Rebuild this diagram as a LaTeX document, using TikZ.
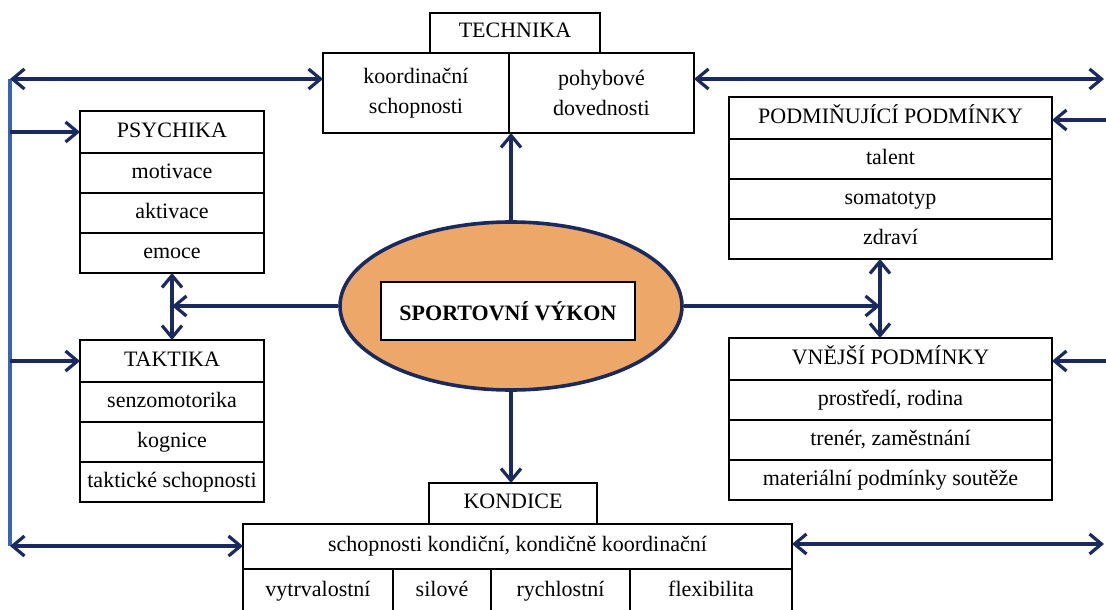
\documentclass[tikz,border=0pt]{standalone}
\usepackage{fontspec}
\setmainfont{Liberation Serif}
\usepackage{xcolor}
\usetikzlibrary{arrows.meta,positioning,shapes.geometric}
\definecolor{navy}{HTML}{1B2A5E}
\definecolor{railblue}{HTML}{3A63B2}
\definecolor{peach}{HTML}{EDA768}

\begin{document}
\begin{tikzpicture}[x=1pt,y=-1pt,>={Straight Barb[length=12pt,width=20pt]},
  box/.style={draw,line width=1.4pt,outer sep=0pt,inner sep=0pt,align=center,font=\fontsize{22}{30}\selectfont},
  cell/.style={box,minimum height=40pt,text height=15pt,text depth=5pt},
  lcol/.style={cell,minimum width=184pt},
  rcol/.style={cell,minimum width=323pt},
  link/.style={navy,line width=3.2pt},
  rail/.style={railblue,line width=3.2pt}]
  \useasboundingbox (0,0) rectangle (1106,610);

  \node[box,minimum width=170pt,minimum height=40pt,text height=15pt,text depth=5pt] (th) at (515,33) {TECHNIKA};
  \node[box,minimum width=186pt,minimum height=80pt] (tkL) at (416,93) {koordinační\\schopnosti};
  \node[box,minimum width=185pt,minimum height=80pt,right=0pt of tkL] (tkR) {pohybové\\dovednosti};

  \node[lcol,minimum height=42pt] (ps) at (172,132) {PSYCHIKA};
  \node[lcol,below=0pt of ps] (psM) {motivace};
  \node[lcol,below=0pt of psM] (psA) {aktivace};
  \node[lcol,below=0pt of psA] (psE) {emoce};

  \node[lcol,minimum height=42pt] (ta) at (172,361) {TAKTIKA};
  \node[lcol,below=0pt of ta] (taS) {senzomotorika};
  \node[lcol,below=0pt of taS] (taK) {kognice};
  \node[lcol,below=0pt of taK] (taT) {taktické schopnosti};

  \node[rcol,minimum height=42pt] (pd) at (890.5,118) {PODMIŇUJÍCÍ PODMÍNKY};
  \node[rcol,below=0pt of pd] (pdT) {talent};
  \node[rcol,below=0pt of pdT] (pdS) {somatotyp};
  \node[rcol,below=0pt of pdS] (pdZ) {zdraví};

  \node[rcol,minimum height=42pt] (vn) at (890.5,359) {VNĚJŠÍ PODMÍNKY};
  \node[rcol,below=0pt of vn] (vnP) {prostředí, rodina};
  \node[rcol,below=0pt of vnP] (vnT) {trenér, zaměstnání};
  \node[rcol,below=0pt of vnT] (vnM) {materiální podmínky soutěže};

  \node[cell,minimum width=168pt,minimum height=41pt] (kh) at (513,503.5) {KONDICE};
  \node[cell,minimum width=549pt,minimum height=45pt] (k1) at (517.5,546.5) {schopnosti kondiční, kondičně koordinační};
  \node[cell,minimum width=150pt,minimum height=45pt,anchor=north west] (kV) at (k1.south west) {vytrvalostní};
  \node[cell,minimum width=98pt,minimum height=45pt,right=0pt of kV] (kS) {silové};
  \node[cell,minimum width=139pt,minimum height=45pt,right=0pt of kS] (kR) {rychlostní};
  \node[cell,minimum width=162pt,minimum height=45pt,right=0pt of kR] (kF) {flexibilita};

  \node[ellipse,draw=navy,line width=3.6pt,fill=peach,inner sep=0pt,minimum width=342pt,minimum height=168pt] (perf) at (511,306) {};
  \node[draw,line width=1.4pt,fill=white,inner sep=0pt,minimum width=254pt,minimum height=58pt,font=\bfseries\fontsize{22}{26}\selectfont] (sv) at (508,311) {SPORTOVNÍ VÝKON};

  \coordinate (lt) at (10,79);
  \coordinate (lb) at (10,546);
  \coordinate (rt) at (1104,79);
  \coordinate (rb) at (1104,544);
  \coordinate (rp) at (1106,120);
  \coordinate (rv) at (1106,361);
  \coordinate (mid) at (880,300);

  \draw[rail] (lt) -- (lb);
  \draw[link,<->] (lt) -- (lt -| tkL.west);
  \draw[link,<->] (tkR.east |- rt) -- (rt);
  \draw[link,->] (lt |- ps.west) -- (ps.west);
  \draw[link,->] (lt |- ta.west) -- (ta.west);
  \draw[link,<->] (lb) -- (lb -| k1.west);
  \draw[link,<->] (k1.east |- rb) -- (rb);
  \draw[link,->] (rp) -- (rp -| pd.east);
  \draw[link,->] (rv) -- (rv -| vn.east);

  \draw[link,->] (perf.north) -- (perf.north |- tkL.south);
  \draw[link,->] (perf.south) -- (perf.south |- kh.north);
  \draw[link,->] (perf.west) -- (perf.west -| psE.south);
  \draw[link,<->] (psE.south) -- (ta.north);
  \draw[link,->] (perf.east) -- (perf.east -| mid);
  \draw[link,<->] (mid |- pdZ.south) -- (mid |- vn.north);
\end{tikzpicture}
\end{document}
